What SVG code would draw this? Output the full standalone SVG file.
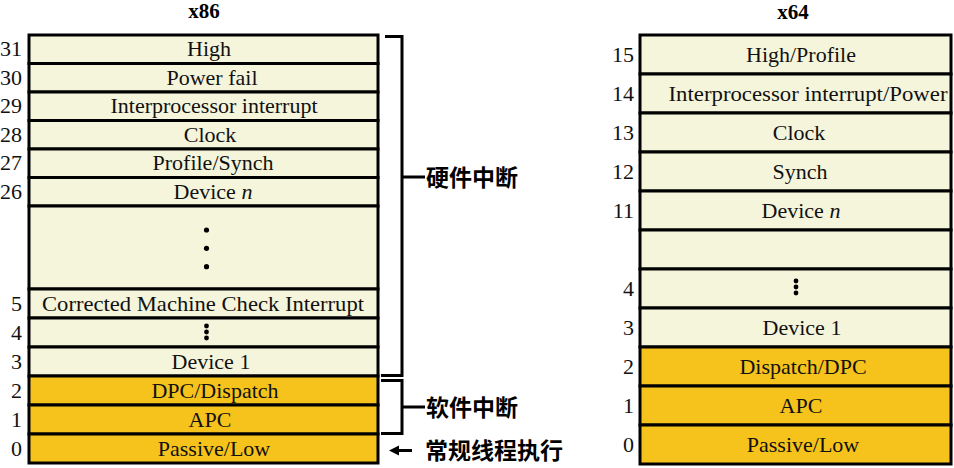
<svg xmlns="http://www.w3.org/2000/svg" width="954" height="468" viewBox="0 0 954 468">
<style>
.lt{fill:#f5f5dc;stroke:#000;stroke-width:3}
.or{fill:#f6c31c;stroke:#000;stroke-width:3}
.lb{font-family:"Liberation Serif","Times New Roman",serif;font-size:22px;fill:#111;text-anchor:middle}
.num{font-family:"Liberation Serif","Times New Roman",serif;font-size:22px;fill:#111;text-anchor:end}
.ttl{font-family:"Liberation Serif","Times New Roman",serif;font-size:21px;font-weight:bold;fill:#000;text-anchor:middle}
.cn{font-family:"Liberation Sans","Noto Sans CJK SC",sans-serif;font-size:23px;font-weight:bold;fill:#000}
.br{fill:none;stroke:#000;stroke-width:3}
</style>
<rect width="954" height="468" fill="#fff"/>
<text class="ttl" x="204" y="18">x86</text>
<text class="ttl" x="793" y="19">x64</text>

<g id="x86">
<g id="x86-31"><rect class="lt" x="29" y="35" width="349" height="28.5"/><text class="num" x="22" y="56">31</text><text class="lb" x="209" y="56">High</text></g>
<g id="x86-30"><rect class="lt" x="29" y="63.5" width="349" height="28.5"/><text class="num" x="22" y="84.5">30</text><text class="lb" x="212" y="84.5">Power fail</text></g>
<g id="x86-29"><rect class="lt" x="29" y="92" width="349" height="28.5"/><text class="num" x="22" y="113">29</text><text class="lb" x="214" y="113">Interprocessor interrupt</text></g>
<g id="x86-28"><rect class="lt" x="29" y="120.5" width="349" height="28.5"/><text class="num" x="22" y="141.5">28</text><text class="lb" x="210" y="141.5">Clock</text></g>
<g id="x86-27"><rect class="lt" x="29" y="149" width="349" height="28.5"/><text class="num" x="22" y="170">27</text><text class="lb" x="213" y="170">Profile/Synch</text></g>
<g id="x86-26"><rect class="lt" x="29" y="177.5" width="349" height="28.5"/><text class="num" x="22" y="198.5">26</text><text class="lb" x="213" y="198.5">Device <tspan font-style="italic">n</tspan></text></g>
<g id="x86-gap"><rect class="lt" x="29" y="206" width="349" height="83"/><circle cx="206.5" cy="230" r="2.6"/><circle cx="206.5" cy="248.3" r="2.6"/><circle cx="206.5" cy="266.7" r="2.6"/></g>
<g id="x86-5"><rect class="lt" x="29" y="289" width="349" height="29"/><text class="num" x="22" y="310.5">5</text><text class="lb" x="203" y="310.5" textLength="322" lengthAdjust="spacingAndGlyphs">Corrected Machine Check Interrupt</text></g>
<g id="x86-4"><rect class="lt" x="29" y="318" width="349" height="29"/><text class="num" x="22" y="339.5">4</text><circle cx="206.5" cy="326" r="2.4"/><circle cx="206.5" cy="332" r="2.4"/><circle cx="206.5" cy="338" r="2.4"/></g>
<g id="x86-3"><rect class="lt" x="29" y="347" width="349" height="29"/><text class="num" x="22" y="368.5">3</text><text class="lb" x="211" y="368.5">Device 1</text></g>
<g id="x86-2"><rect class="or" x="29" y="376" width="349" height="29"/><text class="num" x="22" y="397.5">2</text><text class="lb" x="215" y="397.5">DPC/Dispatch</text></g>
<g id="x86-1"><rect class="or" x="29" y="405" width="349" height="29"/><text class="num" x="22" y="426.5">1</text><text class="lb" x="210" y="426.5">APC</text></g>
<g id="x86-0"><rect class="or" x="29" y="434" width="349" height="29"/><text class="num" x="22" y="455.5">0</text><text class="lb" x="214" y="455.5">Passive/Low</text></g>
</g>

<g id="x64">
<g id="x64-15"><rect class="lt" x="640" y="35" width="311" height="39"/><text class="num" x="634" y="62">15</text><text class="lb" x="801" y="62">High/Profile</text></g>
<g id="x64-14"><rect class="lt" x="640" y="74" width="311" height="39"/><text class="num" x="634" y="101">14</text><text class="lb" x="808" y="101" textLength="279" lengthAdjust="spacingAndGlyphs">Interprocessor interrupt/Power</text></g>
<g id="x64-13"><rect class="lt" x="640" y="113" width="311" height="39"/><text class="num" x="634" y="140">13</text><text class="lb" x="799" y="140">Clock</text></g>
<g id="x64-12"><rect class="lt" x="640" y="152" width="311" height="39"/><text class="num" x="634" y="179">12</text><text class="lb" x="800" y="179">Synch</text></g>
<g id="x64-11"><rect class="lt" x="640" y="191" width="311" height="39"/><text class="num" x="634" y="218">11</text><text class="lb" x="801" y="218">Device <tspan font-style="italic">n</tspan></text></g>
<g id="x64-gap"><rect class="lt" x="640" y="230" width="311" height="39"/></g>
<g id="x64-4"><rect class="lt" x="640" y="269" width="311" height="39"/><text class="num" x="634" y="296">4</text><circle cx="796" cy="281" r="2.4"/><circle cx="796" cy="287" r="2.4"/><circle cx="796" cy="293" r="2.4"/></g>
<g id="x64-3"><rect class="lt" x="640" y="308" width="311" height="39"/><text class="num" x="634" y="335">3</text><text class="lb" x="802" y="335">Device 1</text></g>
<g id="x64-2"><rect class="or" x="640" y="347" width="311" height="39"/><text class="num" x="634" y="374">2</text><text class="lb" x="803" y="374">Dispatch/DPC</text></g>
<g id="x64-1"><rect class="or" x="640" y="386" width="311" height="39"/><text class="num" x="634" y="413">1</text><text class="lb" x="801" y="413">APC</text></g>
<g id="x64-0"><rect class="or" x="640" y="425" width="311" height="39"/><text class="num" x="634" y="452">0</text><text class="lb" x="803" y="452">Passive/Low</text></g>
</g>

<g id="connectors">
<path class="br" d="M385,36.5 H402 V375.5 H381"/>
<path class="br" d="M402,177 H425"/>
<path class="br" d="M381,380.5 H402 V433.5 H381"/>
<path class="br" d="M402,407 H425"/>
<path d="M412,450.5 H398" stroke="#000" stroke-width="3"/>
<path d="M389,450.5 L399,445.5 L399,455.5 Z" fill="#000"/>
</g>

<g id="labels">
<text class="cn" x="426" y="186">硬件中断</text>
<text class="cn" x="426" y="416">软件中断</text>
<text class="cn" x="425" y="459">常规线程执行</text>
</g>
</svg>
